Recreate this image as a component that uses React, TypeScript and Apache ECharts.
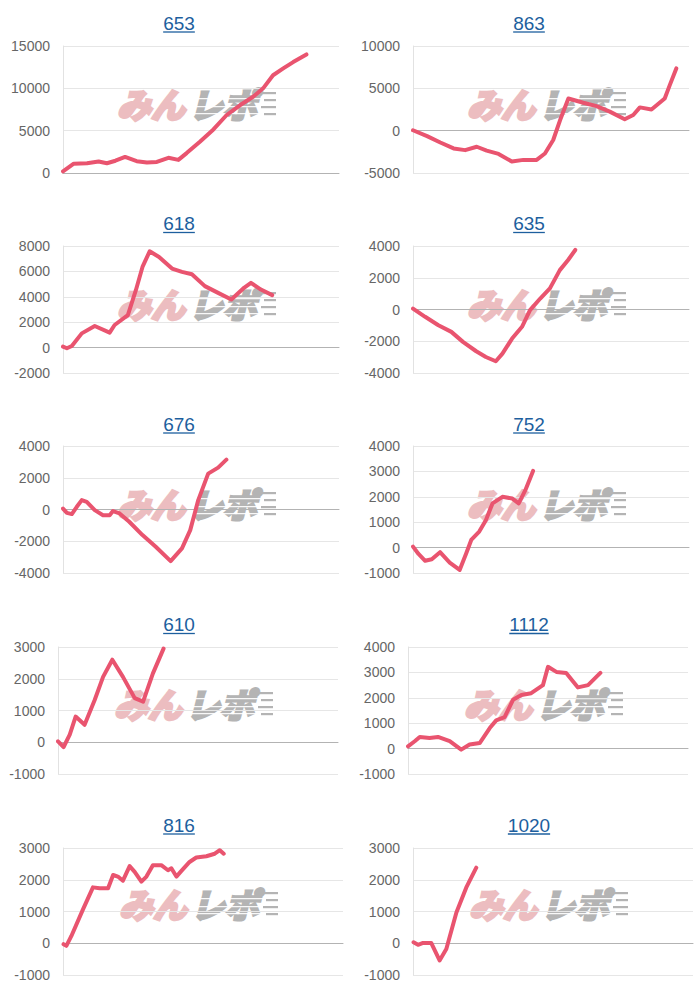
import React, { useEffect, useRef } from 'react';
import * as echarts from 'echarts';

// ---- data (x: progress through the day, 0-100; y: difference in medals) ----
const titles = ['653', '863', '618', '635', '676', '752', '610', '1112', '816', '1020'];

const s653: [number, number][] = [[0,200],[3.9,1100],[8.7,1150],[12.9,1350],[15.9,1150],[19,1450],[22.5,1900],[26.7,1400],[30.4,1250],[34,1300],[38.2,1800],[41.8,1550],[44.8,2350],[49.6,3700],[54.5,5150],[59.3,6850],[64.1,8000],[68.9,9000],[72.5,10000],[76.1,11550],[79.8,12350],[83.4,13100],[88.2,14000]];
const s863: [number, number][] = [[0,50],[5.1,-650],[9.9,-1400],[14.7,-2100],[18.9,-2300],[23.1,-1900],[26.7,-2350],[31,-2750],[35.8,-3650],[40,-3450],[44.8,-3450],[47.8,-2700],[50.8,-1100],[53.3,1250],[56.3,3800],[61.7,3300],[66.5,2900],[71.3,2250],[76.7,1350],[79.8,1850],[82.2,2750],[86.4,2500],[91.2,3800],[93,5350],[95.4,7350]];
const s618: [number, number][] = [[0,80],[1.4,-50],[3.2,130],[6.8,1120],[11.5,1700],[16.9,1180],[18.7,1780],[23.5,2560],[26.4,4520],[28.8,6350],[31.4,7580],[34.8,7140],[39.5,6220],[43.1,5960],[46.7,5780],[51.4,4840],[56.2,4310],[61,3790],[65.7,4730],[68.1,5100],[71.7,4570],[75.8,4130]];
const s635: [number, number][] = [[0,60],[4.4,-460],[9.2,-990],[13.9,-1410],[18.1,-2040],[22.9,-2630],[26.4,-2990],[30,-3260],[32.4,-2780],[35.9,-1830],[39.5,-1090],[42.4,-40],[46.1,690],[49.6,1330],[53.2,2480],[56.2,3120],[58.8,3750]];
const s676: [number, number][] = [[0,60],[1.4,-210],[3.2,-290],[5,170],[6.8,590],[8.6,480],[11.5,-40],[14.5,-360],[16.9,-360],[18.1,-100],[20.5,-250],[24,-770],[28.8,-1610],[33.6,-2350],[39,-3250],[43.1,-2450],[46.1,-1300],[49,590],[52.6,2260],[56.2,2640],[59.2,3140]];
const s752: [number, number][] = [[0,40],[2,-250],[4.4,-520],[6.8,-460],[9.8,-180],[13.3,-590],[16.9,-880],[19.3,-220],[21.1,300],[24,630],[26.4,1080],[28.8,1740],[32.4,2000],[36,1930],[38.3,1740],[40.7,2260],[43.5,3020]];
const s610: [number, number][] = [[0,30],[2,-150],[4.2,240],[6.3,810],[9.5,550],[13.1,1330],[16.1,2060],[19.4,2600],[23.2,2060],[27.4,1390],[30.4,1280],[33.9,2170],[37.7,2950]];
const s1112: [number, number][] = [[0,90],[2.4,290],[4.2,460],[7.7,420],[10.7,460],[14.9,290],[19,-40],[22,160],[25.6,220],[29.2,810],[31.5,1110],[34.5,1240],[37.5,1920],[40.5,2110],[44,2180],[48.2,2500],[50,3220],[53,3020],[56.5,2980],[60.7,2410],[64.3,2500],[68.7,2980]];
const s816: [number, number][] = [[0.2,-30],[1.2,-80],[3,230],[7.1,1060],[10.7,1760],[13.1,1730],[16.1,1730],[17.9,2150],[19.6,2100],[21.4,1970],[23.8,2430],[25.6,2250],[28,1940],[29.8,2100],[32.1,2460],[35.1,2460],[37.5,2300],[38.7,2360],[40.5,2100],[42.3,2280],[45.2,2560],[47.6,2700],[51.2,2740],[54.2,2820],[56,2930],[57.4,2820]];
const s1020: [number, number][] = [[0.2,30],[1.8,-50],[3.6,10],[6.5,10],[9.5,-540],[11.9,-180],[15.5,970],[19,1750],[22.6,2380]];

const seriesData = [s653, s863, s618, s635, s676, s752, s610, s1112, s816, s1020];

// y-axis tick ranges
const yMins = [0, -5000, -2000, -4000, -4000, -1000, -1000, -1000, -1000, -1000];
const yMaxs = [15000, 10000, 8000, 4000, 4000, 4000, 3000, 4000, 3000, 3000];
const ySteps = [5000, 5000, 2000, 2000, 2000, 1000, 1000, 1000, 1000, 1000];

// ---- layout / style ----
const FONT = "'Liberation Sans', Arial, Helvetica, sans-serif";
const JP_FONT = "'Noto Sans CJK JP', 'Noto Sans CJK SC', sans-serif";
const LINE_COLOR = '#e9546f';
const TITLE_COLOR = '#1d5f9e';
const PINK = '#ecbdc0';
const GRAY = '#b4b4b4';
const ROW_TOP = [46, 246, 446, 647, 848];
const ROW_LEFT = [63, 63, 63, 58, 63];
const ROW_W = [276, 276, 276, 280, 280];
const GRID_H = 127;

export default function App() {
  const ref = useRef<HTMLDivElement>(null);
  useEffect(() => {
    document.body.style.margin = '0';
    const chart = echarts.init(ref.current!, null, { renderer: 'svg' });
    const ctx = document.createElement('canvas').getContext('2d')!;
    ctx.font = `19px ${FONT}`;

    const grids: any[] = [];
    const xAxes: any[] = [];
    const yAxes: any[] = [];
    const series: any[] = [];
    const graphics: any[] = [];

    const logoText = (text: string, x: number, color: string) => ({
      type: 'text', x, y: 15,
      style: {
        text, fontSize: 34, fontWeight: 'bold', fontStyle: 'italic', fontFamily: JP_FONT,
        fill: color, stroke: color, lineWidth: 3.2, lineJoin: 'round',
        align: 'left', verticalAlign: 'middle', textAlign: 'left', textVerticalAlign: 'middle',
      },
    });

    titles.forEach((t, i) => {
      const col = i % 2;
      const row = Math.floor(i / 2);
      const left = col * 350 + ROW_LEFT[row];
      const top = ROW_TOP[row];
      const w = ROW_W[row];
      grids.push({ left, top, width: w, height: GRID_H, containLabel: false });
      xAxes.push({
        gridIndex: i, type: 'value', min: 0, max: 100,
        axisLabel: { show: false }, axisTick: { show: false }, splitLine: { show: false },
        axisLine: { show: true, onZero: true, lineStyle: { color: '#b3b3b3', width: 1 } },
      });
      yAxes.push({
        gridIndex: i, type: 'value', min: yMins[i], max: yMaxs[i], interval: ySteps[i],
        axisLabel: { color: '#666', fontSize: 14, fontFamily: FONT, margin: 13, formatter: (v: number) => String(v) },
        axisLine: { show: true, lineStyle: { color: '#e2e2e2' } },
        axisTick: { show: false },
        splitLine: { lineStyle: { color: '#e6e6e6' } },
      });
      series.push({
        type: 'line', xAxisIndex: i, yAxisIndex: i, data: seriesData[i],
        symbol: 'none', showSymbol: false, silent: true, z: 5,
        lineStyle: { color: LINE_COLOR, width: 4, cap: 'round', join: 'round' },
      });

      // title (link-like, underlined)
      const tx = col * 350 + 179;
      const ty = row * 200 + 23 + row * 0.5;
      const tw = ctx.measureText(t).width;
      graphics.push({
        type: 'text', x: tx, y: ty,
        style: { text: t, fontSize: 19, fontFamily: FONT, fill: TITLE_COLOR, align: 'center', verticalAlign: 'middle', textAlign: 'center', textVerticalAlign: 'middle' },
      });
      graphics.push({
        type: 'line', shape: { x1: tx - tw / 2, y1: ty + 9, x2: tx + tw / 2, y2: ty + 9 },
        style: { stroke: TITLE_COLOR, lineWidth: 1.3 },
      });

      // watermark logo
      const cx = left + w / 2 - 6;
      const cy = row * 200 + 103;
      const children: any[] = [logoText('みん', 2, PINK), logoText('レポ', 74, GRAY)];
      [10, 18, 25].forEach((yy) => {
        children.push({ type: 'rect', shape: { x: 72, y: yy, width: 78, height: 1.2 }, style: { fill: 'rgba(255,255,255,0.9)' } });
      });
      [4, 11, 18, 25].forEach((yy, k) => {
        children.push({ type: 'rect', shape: { x: 146 + (k % 2) * 3, y: yy, width: 15 - (k % 2) * 3, height: 2.2 }, style: { fill: GRAY } });
      });
      graphics.push({ type: 'group', x: cx - 80, y: cy - 15, silent: true, children });
    });

    chart.setOption({
      animation: false,
      backgroundColor: '#fff',
      grid: grids,
      xAxis: xAxes,
      yAxis: yAxes,
      series,
      graphic: { elements: graphics },
    });
    return () => chart.dispose();
  }, []);
  return <div ref={ref} style={{ width: 700, height: 1000 }} />;
}
